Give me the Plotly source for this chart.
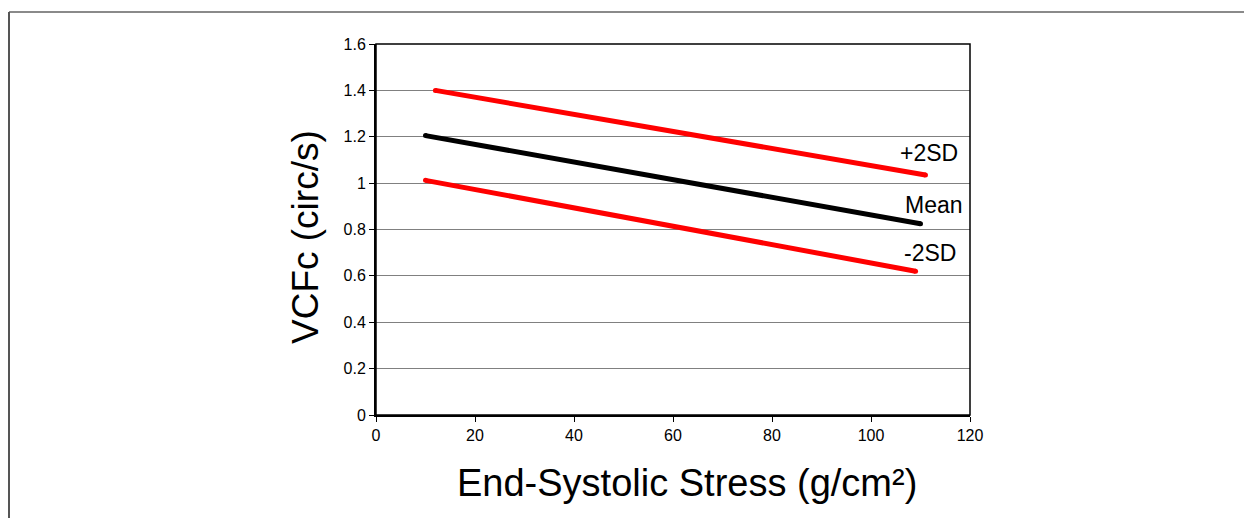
import plotly.graph_objects as go

# Data
stress_plus = [12, 111]
vcf_plus = [1.40, 1.035]
stress_mean = [10, 110]
vcf_mean = [1.205, 0.825]
stress_minus = [10, 109]
vcf_minus = [1.012, 0.62]
labels = ["+2SD", "Mean", "-2SD"]
x_ticks = [0, 20, 40, 60, 80, 100, 120]
y_ticks = [0, 0.2, 0.4, 0.6, 0.8, 1, 1.2, 1.4, 1.6]
y_tick_text = ["0", "0.2", "0.4", "0.6", "0.8", "1", "1.2", "1.4", "1.6"]
x_title = "End-Systolic Stress (g/cm²)"
y_title = "VCFc (circ/s)"

FONT = "Liberation Sans, Arial, sans-serif"
OFF = 8  # page body margin
W, H = 1252 - OFF, 518 - OFF
L, T = 376 - OFF, 44 - OFF
pw, ph = 594, 371
R, B = W - L - pw, H - T - ph

series = [
    (stress_plus, vcf_plus, "#ff0000", labels[0], 4, -22),
    (stress_mean, vcf_mean, "#000000", labels[1], 13, -19),
    (stress_minus, vcf_minus, "#ff0000", labels[2], 14, -18),
]


def px_to_paper_x(px):
    return (px - OFF - L) / pw


def py_to_paper_y(py):
    return (T + ph - (py - OFF)) / ph


fig = go.Figure()
annotations = []
for xs, ys, col, lab, dx, dy in series:
    fig.add_trace(go.Scatter(
        x=xs, y=ys, mode="lines+markers",
        line=dict(color=col, width=5),
        marker=dict(color=col, size=5, line=dict(width=0)),
        showlegend=False, hoverinfo="skip"))
    annotations.append(dict(
        x=xs[-1], y=ys[-1], xref="x", yref="y", text=lab, showarrow=False,
        xanchor="center", yanchor="middle", xshift=dx, yshift=-dy,
        font=dict(family=FONT, size=23, color="#000000")))

# axis titles
annotations.append(dict(
    x=px_to_paper_x(687), y=py_to_paper_y(483), xref="paper", yref="paper",
    text=x_title, showarrow=False, xanchor="center", yanchor="middle",
    font=dict(family=FONT, size=38, color="#000000")))
annotations.append(dict(
    x=px_to_paper_x(305), y=py_to_paper_y(237), xref="paper", yref="paper",
    text=y_title, showarrow=False, xanchor="center", yanchor="middle",
    textangle=-90, font=dict(family=FONT, size=37, color="#000000")))

shapes = [
    # outer frame: top and left edges
    dict(type="line", xref="paper", yref="paper",
         x0=px_to_paper_x(9), x1=px_to_paper_x(1260),
         y0=py_to_paper_y(12), y1=py_to_paper_y(12),
         line=dict(color="#8a8a8a", width=2)),
    dict(type="line", xref="paper", yref="paper",
         x0=px_to_paper_x(9), x1=px_to_paper_x(9),
         y0=py_to_paper_y(12), y1=py_to_paper_y(530),
         line=dict(color="#555555", width=2)),
    # plot area box
    dict(type="rect", xref="paper", yref="paper", x0=0, x1=1, y0=0, y1=1,
         line=dict(color="#000000", width=1.5), layer="above"),
]

fig.update_layout(
    width=W, height=H,
    margin=dict(l=L, r=R, t=T, b=B, pad=0),
    paper_bgcolor="white", plot_bgcolor="white",
    font=dict(family=FONT, color="#000000"),
    shapes=shapes,
    annotations=annotations,
    xaxis=dict(
        range=[0, 120], tickvals=x_ticks, ticks="outside", ticklen=5,
        tickcolor="#000000", tickwidth=1,
        showgrid=False, zeroline=False, showline=True, linecolor="#000000",
        linewidth=2, tickfont=dict(family=FONT, size=16, color="#000000"),
        fixedrange=True,
    ),
    yaxis=dict(
        range=[0, 1.6], tickvals=y_ticks, ticktext=y_tick_text,
        ticks="outside", ticklen=5, tickcolor="#000000", tickwidth=1,
        showgrid=True, gridcolor="#808080", gridwidth=1,
        zeroline=False, showline=True, linecolor="#000000", linewidth=2,
        tickfont=dict(family=FONT, size=16, color="#000000"),
        fixedrange=True,
    ),
)

fig.write_html("out.html")
